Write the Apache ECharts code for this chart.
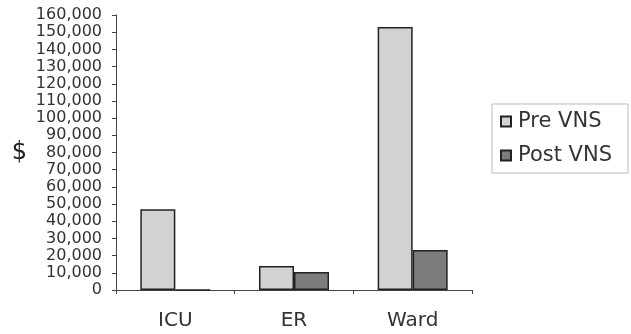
<!DOCTYPE html>
<html><head><meta charset="utf-8">
<script src="https://cdn.jsdelivr.net/npm/echarts@6/dist/echarts.min.js"></script>
<style>html,body{margin:0;padding:0;background:#fff}#c{width:631px;height:334px}</style>
</head><body><div id="c"></div>
<script>
const categories = ['ICU', 'ER', 'Ward'];
const preVNS = [47000, 14000, 153000];
const postVNS = [0, 10500, 23300];
const seriesNames = ['Pre VNS', 'Post VNS'];
const yMin = 0, yMax = 160000, yStep = 10000;

const font = 'DejaVu Sans';
const chart = echarts.init(document.getElementById('c'), null, {renderer: 'canvas'});
chart.setOption({
  animation: false,
  backgroundColor: '#fff',
  grid: {left: 116, right: 159, top: 15, bottom: 44, containLabel: false},
  legend: {
    orient: 'vertical', left: 492, top: 104,
    padding: [7, 16, 7, 8], itemGap: 13,
    itemWidth: 10, itemHeight: 10, icon: 'rect',
    borderColor: '#bbb', borderWidth: 1,
    textStyle: {fontFamily: font, fontSize: 21, color: '#333', padding: [0, 0, 0, 2]},
    data: seriesNames
  },
  xAxis: {
    type: 'category', data: categories, boundaryGap: true,
    axisLine: {lineStyle: {color: '#444', width: 1}},
    axisTick: {show: true, length: 4, lineStyle: {color: '#444'}},
    axisLabel: {fontFamily: font, fontSize: 20, color: '#333', margin: 21}
  },
  yAxis: {
    type: 'value', min: yMin, max: yMax, interval: yStep,
    name: '$', nameLocation: 'middle', nameRotate: 0, nameGap: 89,
    nameTextStyle: {fontFamily: font, fontSize: 24, color: '#222', padding: [12, 0, 0, 0]},
    splitLine: {show: false},
    axisLine: {show: true, lineStyle: {color: '#444', width: 1}},
    axisTick: {show: true, length: 4, lineStyle: {color: '#444'}},
    axisLabel: {fontFamily: font, fontSize: 16, color: '#333', margin: 14,
      formatter: v => v.toLocaleString('en-US')}
  },
  series: [
    {name: seriesNames[0], type: 'bar', data: preVNS, barGap: '0%', barCategoryGap: '41%',
     itemStyle: {color: '#d2d2d2', borderColor: '#222', borderWidth: 1.5}},
    {name: seriesNames[1], type: 'bar', data: postVNS, barGap: '0%', barCategoryGap: '41%',
     itemStyle: {color: '#7c7c7c', borderColor: '#222', borderWidth: 1.5}}
  ]
});
</script></body></html>
